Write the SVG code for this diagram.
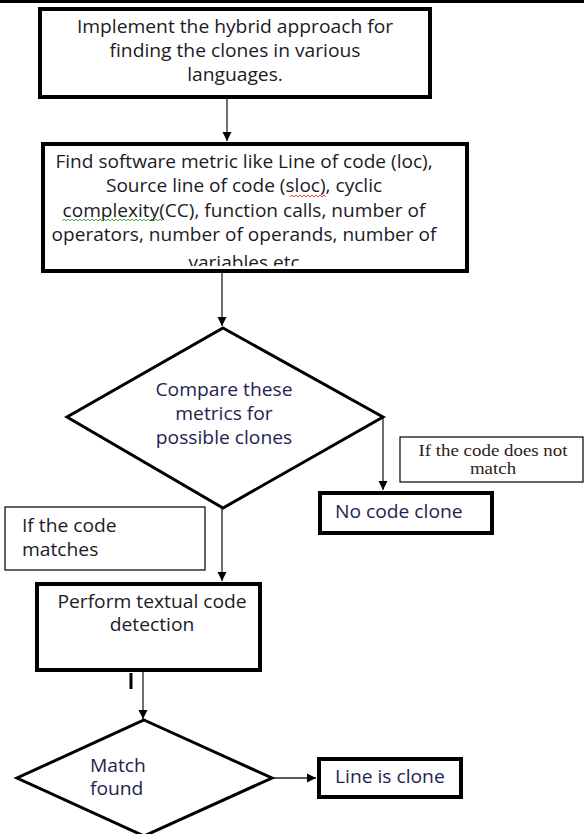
<svg xmlns="http://www.w3.org/2000/svg" width="584" height="834" viewBox="0 0 584 834">
  <style>
    .box { fill: #fff; stroke: #000; stroke-width: 4; }
    .thin { fill: #fff; stroke: #000; stroke-width: 1.2; }
    .dia { fill: #fff; stroke: #000; stroke-width: 3; stroke-linejoin: miter; }
    .t { font-family: "Open Sans", "Liberation Sans", sans-serif; font-size: 17.5px; fill: #1c1a26; }
    .tn { font-family: "Open Sans", "Liberation Sans", sans-serif; font-size: 17.5px; fill: #1e2450; }
    .ts { font-family: "Liberation Serif", "DejaVu Serif", serif; font-size: 17.5px; fill: #2a2218; }
    .c { text-anchor: middle; }
    .conn { stroke: #222; stroke-width: 1.3; fill: none; marker-end: url(#ah); }
  </style>
  <defs>
    <marker id="ah" markerUnits="userSpaceOnUse" markerWidth="10" markerHeight="10" refX="9" refY="5" orient="auto">
      <path d="M0,0.5 L9,5 L0,9.5 z" fill="#000"/>
    </marker>
    <clipPath id="clipB2">
      <rect x="-300" y="140" width="600" height="126"/>
    </clipPath>
  </defs>

  <rect x="0" y="0" width="584" height="3" fill="#000"/>

  <g id="connectors">
    <line class="conn" x1="227" y1="99" x2="227" y2="141"/>
    <line class="conn" x1="222" y1="273" x2="222" y2="326"/>
    <line class="conn" x1="383" y1="417" x2="383" y2="490"/>
    <line class="conn" x1="222" y1="508" x2="222" y2="581"/>
    <line class="conn" x1="143" y1="672" x2="143" y2="719"/>
    <line class="conn" x1="272" y1="778" x2="316" y2="778"/>
    <rect x="129.5" y="673" width="3" height="16" fill="#000"/>
  </g>

  <g id="n1">
    <rect class="box" x="40" y="9" width="390" height="88"/>
    <g transform="translate(235 0) scale(1.1 1)">
      <text class="t c" x="0" y="33">Implement the hybrid approach for</text>
      <text class="t c" x="0" y="57">finding the clones in various</text>
      <text class="t c" x="0" y="81">languages.</text>
    </g>
  </g>

  <g id="n2">
    <rect class="box" x="43" y="144" width="424" height="127"/>
    <g transform="translate(244 0) scale(1.09 1)">
      <g clip-path="url(#clipB2)">
        <text class="t c" x="0" y="168">Find software metric like Line of code (loc),</text>
        <text class="t c" x="0" y="192">Source line of code (sloc), cyclic</text>
        <text class="t c" x="0" y="217">complexity(CC), function calls, number of</text>
        <text class="t c" x="0" y="241">operators, number of operands, number of</text>
        <text class="t c" x="0" y="269">variables etc</text>
      </g>
    </g>
    <path d="M290,197 l2,-2 l2,2 l2,-2 l2,2 l2,-2 l2,2 l2,-2 l2,2 l2,-2 l2,2 l2,-2 l2,2 l2,-2 l2,2 l2,-2 l2,2 l2,-2 l2,2" fill="none" stroke="#e03030" stroke-width="0.9"/>
    <path d="M62,221 l2,-2 l2,2 l2,-2 l2,2 l2,-2 l2,2 l2,-2 l2,2 l2,-2 l2,2 l2,-2 l2,2 l2,-2 l2,2 l2,-2 l2,2 l2,-2 l2,2 l2,-2 l2,2 l2,-2 l2,2 l2,-2 l2,2 l2,-2 l2,2 l2,-2 l2,2 l2,-2 l2,2 l2,-2 l2,2 l2,-2 l2,2 l2,-2 l2,2 l2,-2 l2,2 l2,-2 l2,2 l2,-2 l2,2 l2,-2 l2,2 l2,-2 l2,2 l2,-2 l2,2 l2,-2 l2,2" fill="none" stroke="#30a030" stroke-width="0.9"/>
  </g>

  <g id="n3">
    <polygon class="dia" points="223,328 383,417 223,508 67,417"/>
    <g transform="translate(224 0) scale(1.1 1)">
      <text class="tn c" x="0" y="396">Compare these</text>
      <text class="tn c" x="0" y="420">metrics for</text>
      <text class="tn c" x="0" y="444">possible clones</text>
    </g>
  </g>

  <g id="n4">
    <rect class="thin" x="400" y="437" width="183" height="45"/>
    <g transform="translate(493 0) scale(1.08 1)">
      <text class="ts c" x="0" y="456">If the code does not</text>
      <text class="ts c" x="0" y="474">match</text>
    </g>
  </g>

  <g id="n5">
    <rect class="box" x="320" y="493" width="172" height="40"/>
    <g transform="translate(335 0) scale(1.1 1)">
      <text class="tn" x="0" y="518">No code clone</text>
    </g>
  </g>

  <g id="n6">
    <rect class="thin" x="5" y="507" width="200" height="63"/>
    <g transform="translate(22 0) scale(1.1 1)">
      <text class="t" x="0" y="532">If the code</text>
      <text class="t" x="0" y="556">matches</text>
    </g>
  </g>

  <g id="n7">
    <rect class="box" x="37" y="584" width="223" height="86"/>
    <g transform="translate(152 0) scale(1.1 1)">
      <text class="t c" x="0" y="608">Perform textual code</text>
      <text class="t c" x="0" y="631">detection</text>
    </g>
  </g>

  <g id="n8">
    <polygon class="dia" points="144,720 272,778 144,836 17,778"/>
    <g transform="translate(90 0) scale(1.1 1)">
      <text class="tn" x="0" y="772">Match</text>
      <text class="tn" x="0" y="795">found</text>
    </g>
  </g>

  <g id="n9">
    <rect class="box" x="319" y="759" width="142" height="38"/>
    <g transform="translate(335 0) scale(1.1 1)">
      <text class="tn" x="0" y="783">Line is clone</text>
    </g>
  </g>
</svg>
